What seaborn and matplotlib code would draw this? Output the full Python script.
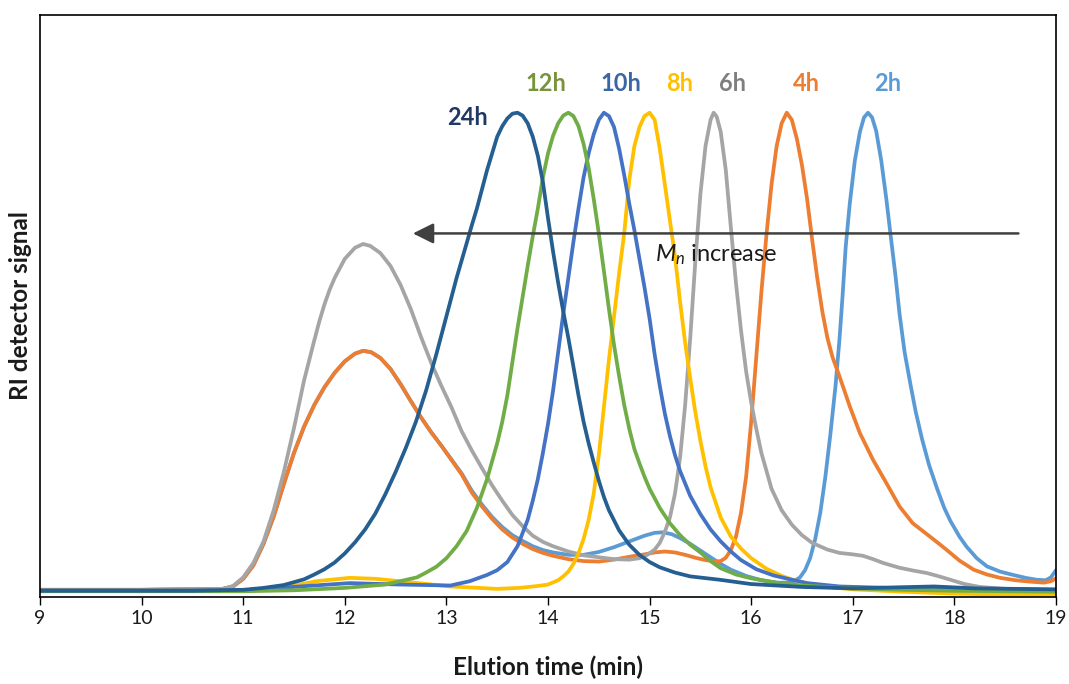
import numpy as np
import pandas as pd
import matplotlib
matplotlib.use("Agg")
import matplotlib.pyplot as plt
import seaborn as sns

# ---------------- data ----------------
series_names = ["2h", "4h", "6h", "8h", "10h", "12h", "24h"]

t_2h = [9.0, 10.0, 10.8, 10.9, 11.0, 11.1, 11.2, 11.3, 11.4, 11.5, 11.6, 11.7, 11.8, 11.9, 12.0, 12.1, 12.18,
        12.26, 12.35, 12.45, 12.55, 12.65, 12.75, 12.85, 12.95, 13.05, 13.15, 13.25, 13.35, 13.45, 13.55, 13.65,
        13.75, 13.85, 13.95, 14.05, 14.2, 14.35, 14.5, 14.65, 14.8, 14.95, 15.05, 15.13, 15.22, 15.3, 15.4, 15.5,
        15.6, 15.7, 15.8, 15.95, 16.1, 16.25, 16.35, 16.42, 16.48, 16.53, 16.58, 16.63, 16.68, 16.73, 16.78,
        16.83, 16.87, 16.9, 16.93, 16.97, 17.02, 17.07, 17.11, 17.15, 17.19, 17.23, 17.28, 17.33, 17.37, 17.42,
        17.46, 17.51, 17.57, 17.62, 17.68, 17.75, 17.83, 17.9, 17.96, 18.05, 18.12, 18.22, 18.32, 18.45, 18.58,
        18.7, 18.81, 18.9, 18.95, 19.0]
s_2h = [0.004, 0.004, 0.006, 0.011, 0.027, 0.055, 0.100, 0.157, 0.225, 0.290, 0.345, 0.390, 0.427, 0.457, 0.481,
        0.497, 0.503, 0.500, 0.488, 0.465, 0.433, 0.398, 0.364, 0.333, 0.305, 0.276, 0.247, 0.211, 0.182, 0.156,
        0.135, 0.118, 0.106, 0.095, 0.087, 0.082, 0.077, 0.077, 0.083, 0.093, 0.105, 0.117, 0.123, 0.124, 0.120,
        0.112, 0.100, 0.086, 0.072, 0.058, 0.046, 0.033, 0.024, 0.019, 0.019, 0.022, 0.030, 0.045, 0.070, 0.110,
        0.165, 0.240, 0.330, 0.430, 0.530, 0.620, 0.720, 0.810, 0.900, 0.960, 0.990, 1.000, 0.990, 0.962, 0.900,
        0.820, 0.748, 0.660, 0.580, 0.500, 0.430, 0.375, 0.320, 0.265, 0.215, 0.175, 0.148, 0.115, 0.094, 0.070,
        0.053, 0.042, 0.035, 0.029, 0.025, 0.024, 0.030, 0.045]

t_4h = [9.0, 10.0, 10.8, 10.9, 11.0, 11.1, 11.2, 11.3, 11.4, 11.5, 11.6, 11.7, 11.8, 11.9, 12.0, 12.1, 12.18,
        12.26, 12.35, 12.45, 12.55, 12.65, 12.75, 12.85, 12.95, 13.05, 13.15, 13.25, 13.35, 13.45, 13.55, 13.65,
        13.75, 13.85, 13.95, 14.05, 14.2, 14.35, 14.5, 14.65, 14.8, 14.95, 15.05, 15.15, 15.25, 15.35, 15.45,
        15.55, 15.65, 15.7, 15.75, 15.8, 15.85, 15.9, 15.95, 16.0, 16.05, 16.1, 16.15, 16.2, 16.25, 16.3, 16.35,
        16.4, 16.45, 16.5, 16.55, 16.6, 16.65, 16.7, 16.75, 16.8, 16.87, 16.97, 17.07, 17.2, 17.33, 17.46, 17.59,
        17.73, 17.85, 17.92, 18.05, 18.19, 18.32, 18.45, 18.6, 18.75, 18.88, 18.95, 19.0]
s_4h = [0.004, 0.004, 0.006, 0.011, 0.027, 0.055, 0.100, 0.157, 0.225, 0.290, 0.345, 0.390, 0.427, 0.457, 0.481,
        0.497, 0.503, 0.500, 0.488, 0.465, 0.433, 0.398, 0.364, 0.333, 0.305, 0.275, 0.245, 0.207, 0.178, 0.152,
        0.130, 0.113, 0.100, 0.089, 0.081, 0.075, 0.068, 0.064, 0.063, 0.067, 0.073, 0.078, 0.082, 0.084, 0.082,
        0.077, 0.071, 0.066, 0.063, 0.064, 0.071, 0.087, 0.115, 0.165, 0.240, 0.355, 0.490, 0.625, 0.745, 0.850,
        0.930, 0.978, 1.000, 0.985, 0.945, 0.890, 0.820, 0.735, 0.655, 0.585, 0.530, 0.490, 0.449, 0.387, 0.331,
        0.275, 0.227, 0.178, 0.143, 0.120, 0.100, 0.088, 0.065, 0.046, 0.036, 0.029, 0.024, 0.021, 0.019, 0.022,
        0.028]

t_6h = [9.0, 10.0, 10.8, 10.9, 11.0, 11.1, 11.2, 11.3, 11.4, 11.5, 11.6, 11.7, 11.75, 11.8, 11.85, 11.9, 12.0,
        12.1, 12.18, 12.25, 12.35, 12.45, 12.55, 12.65, 12.75, 12.85, 12.95, 13.05, 13.15, 13.25, 13.35, 13.45,
        13.55, 13.65, 13.75, 13.85, 13.95, 14.05, 14.2, 14.35, 14.5, 14.65, 14.8, 14.9, 14.97, 15.05, 15.1, 15.15,
        15.2, 15.25, 15.3, 15.35, 15.4, 15.45, 15.5, 15.55, 15.6, 15.63, 15.66, 15.7, 15.75, 15.8, 15.85, 15.9,
        15.95, 16.0, 16.05, 16.1, 16.2, 16.3, 16.4, 16.5, 16.6, 16.75, 16.87, 17.0, 17.1, 17.2, 17.3, 17.46, 17.6,
        17.73, 17.85, 17.96, 18.1, 18.25, 18.5, 19.0]
s_6h = [0.004, 0.004, 0.006, 0.012, 0.030, 0.060, 0.105, 0.170, 0.250, 0.342, 0.442, 0.525, 0.565, 0.600, 0.630,
        0.655, 0.695, 0.718, 0.726, 0.722, 0.707, 0.680, 0.640, 0.590, 0.532, 0.478, 0.430, 0.385, 0.335, 0.295,
        0.258, 0.222, 0.190, 0.160, 0.137, 0.117, 0.104, 0.095, 0.084, 0.076, 0.072, 0.068, 0.067, 0.070, 0.076,
        0.088, 0.102, 0.125, 0.155, 0.205, 0.280, 0.390, 0.530, 0.690, 0.830, 0.930, 0.985, 1.000, 0.992, 0.960,
        0.880, 0.760, 0.645, 0.545, 0.460, 0.395, 0.340, 0.290, 0.215, 0.170, 0.140, 0.118, 0.102, 0.088, 0.081,
        0.078, 0.075, 0.068, 0.060, 0.050, 0.044, 0.039, 0.032, 0.025, 0.016, 0.010, 0.006, 0.004]

t_8h = [9.0, 10.0, 11.0, 11.39, 11.72, 12.05, 12.3, 12.54, 13.04, 13.5, 13.72, 13.9, 14.0, 14.1, 14.15, 14.2,
        14.25, 14.3, 14.35, 14.4, 14.45, 14.5, 14.55, 14.6, 14.65, 14.7, 14.75, 14.8, 14.85, 14.9, 14.95, 15.0,
        15.05, 15.1, 15.15, 15.2, 15.25, 15.3, 15.35, 15.4, 15.45, 15.5, 15.55, 15.6, 15.7, 15.8, 15.9, 16.0,
        16.15, 16.3, 16.41, 16.6, 16.8, 17.0, 17.5, 18.0, 18.5, 19.0]
s_8h = [0.003, 0.003, 0.003, 0.008, 0.022, 0.029, 0.027, 0.022, 0.011, 0.006, 0.008, 0.012, 0.015, 0.024, 0.032,
        0.042, 0.058, 0.080, 0.110, 0.150, 0.205, 0.285, 0.385, 0.485, 0.575, 0.665, 0.748, 0.860, 0.930, 0.970,
        0.993, 1.000, 0.985, 0.925, 0.850, 0.775, 0.700, 0.605, 0.520, 0.445, 0.375, 0.315, 0.262, 0.218, 0.155,
        0.115, 0.090, 0.070, 0.048, 0.033, 0.025, 0.015, 0.009, 0.005, 0.000, -0.004, -0.006, -0.006]

t_10h = [9.0, 11.0, 11.56, 12.05, 12.54, 13.04, 13.23, 13.4, 13.5, 13.6, 13.7, 13.8, 13.85, 13.9, 13.95, 14.0,
         14.05, 14.1, 14.15, 14.2, 14.25, 14.3, 14.35, 14.4, 14.45, 14.5, 14.55, 14.6, 14.65, 14.7, 14.75, 14.8,
         14.85, 14.9, 14.95, 15.0, 15.05, 15.1, 15.15, 15.2, 15.25, 15.3, 15.4, 15.5, 15.6, 15.7, 15.8, 15.9,
         16.05, 16.22, 16.4, 16.55, 16.87, 17.5, 18.0, 19.0]
s_10h = [0.003, 0.003, 0.011, 0.018, 0.015, 0.013, 0.022, 0.035, 0.045, 0.062, 0.095, 0.150, 0.190, 0.235, 0.290,
         0.350, 0.420, 0.500, 0.580, 0.655, 0.730, 0.800, 0.865, 0.915, 0.955, 0.985, 1.000, 0.993, 0.970, 0.925,
         0.870, 0.810, 0.755, 0.695, 0.635, 0.570, 0.495, 0.430, 0.372, 0.325, 0.285, 0.252, 0.200, 0.162, 0.130,
         0.105, 0.084, 0.066, 0.047, 0.034, 0.025, 0.018, 0.011, 0.007, 0.005, 0.003]

t_12h = [9.0, 11.0, 11.5, 12.0, 12.4, 12.71, 12.8, 12.9, 13.0, 13.1, 13.2, 13.3, 13.4, 13.5, 13.55, 13.6, 13.65,
         13.7, 13.75, 13.8, 13.85, 13.9, 13.95, 14.0, 14.05, 14.1, 14.15, 14.2, 14.25, 14.3, 14.35, 14.4, 14.45,
         14.5, 14.55, 14.6, 14.65, 14.7, 14.75, 14.8, 14.85, 14.9, 14.95, 15.0, 15.1, 15.2, 15.3, 15.4, 15.5,
         15.6, 15.7, 15.85, 16.0, 16.25, 16.5, 17.0, 17.5, 18.0, 19.0]
s_12h = [0.001, 0.001, 0.003, 0.008, 0.015, 0.030, 0.040, 0.052, 0.070, 0.095, 0.127, 0.175, 0.235, 0.310, 0.355,
         0.410, 0.480, 0.550, 0.615, 0.680, 0.742, 0.800, 0.865, 0.915, 0.952, 0.978, 0.994, 1.000, 0.993, 0.972,
         0.935, 0.885, 0.820, 0.748, 0.670, 0.590, 0.515, 0.450, 0.390, 0.340, 0.298, 0.268, 0.240, 0.215, 0.175,
         0.143, 0.118, 0.098, 0.082, 0.064, 0.049, 0.036, 0.028, 0.019, 0.013, 0.007, 0.004, 0.002, 0.000]

t_24h = [9.0, 10.5, 11.0, 11.2, 11.4, 11.6, 11.7, 11.8, 11.9, 12.0, 12.1, 12.2, 12.3, 12.4, 12.5, 12.6, 12.7,
         12.8, 12.9, 13.0, 13.1, 13.2, 13.25, 13.3, 13.35, 13.4, 13.45, 13.5, 13.55, 13.6, 13.65, 13.7, 13.75,
         13.8, 13.85, 13.9, 13.95, 14.0, 14.05, 14.1, 14.15, 14.2, 14.25, 14.3, 14.35, 14.4, 14.45, 14.5, 14.55,
         14.6, 14.7, 14.8, 14.9, 15.0, 15.1, 15.25, 15.4, 15.69, 16.0, 16.5, 17.0, 17.6, 17.8, 18.2, 19.0]
s_24h = [0.002, 0.002, 0.004, 0.008, 0.014, 0.026, 0.036, 0.047, 0.061, 0.080, 0.103, 0.130, 0.163, 0.204, 0.250,
         0.300, 0.355, 0.420, 0.495, 0.575, 0.655, 0.728, 0.765, 0.800, 0.840, 0.880, 0.915, 0.950, 0.972, 0.988,
         0.998, 1.000, 0.994, 0.978, 0.950, 0.910, 0.855, 0.780, 0.710, 0.645, 0.585, 0.530, 0.470, 0.410, 0.355,
         0.310, 0.270, 0.232, 0.198, 0.170, 0.128, 0.098, 0.077, 0.062, 0.051, 0.040, 0.032, 0.025, 0.016, 0.010,
         0.007, 0.010, 0.011, 0.007, 0.005]

line_colors = ["#5B9BD5", "#ED7D31", "#A5A5A5", "#FFC000", "#4472C4", "#70AD47", "#255E91"]
label_colors = ["#5B9BD5", "#ED7D31", "#7F7F7F", "#FFC000", "#3A66A6", "#77933C", "#1F3864"]
label_x = [17.34, 16.54, 15.82, 15.30, 14.72, 13.98, 13.21]
label_y = [1.061, 1.061, 1.061, 1.061, 1.061, 1.061, 0.990]

x_ticks = [9, 10, 11, 12, 13, 14, 15, 16, 17, 18, 19]
arrow_from = 18.63
arrow_to = 12.67
arrow_level = 0.748

# ---------------- build frame ----------------
times = [t_2h, t_4h, t_6h, t_8h, t_10h, t_12h, t_24h]
sigs = [s_2h, s_4h, s_6h, s_8h, s_10h, s_12h, s_24h]
frames = []
for name, t, s in zip(series_names, times, sigs):
    frames.append(pd.DataFrame({"time": t, "signal": s, "series": name}))
df = pd.concat(frames, ignore_index=True)

# ---------------- plot ----------------
sns.set_theme(style="white")
plt.rcParams["font.family"] = ["Lato", "DejaVu Sans"]
plt.rcParams["mathtext.fontset"] = "custom"
plt.rcParams["mathtext.it"] = "Lato:italic"
plt.rcParams["mathtext.rm"] = "Lato"

fig = plt.figure(figsize=(10.69, 6.84), dpi=100)
ax = fig.add_axes([40 / 1069, 1 - 597 / 684, (1056 - 40) / 1069, (597 - 15) / 684])

sns.lineplot(data=df, x="time", y="signal", hue="series", hue_order=series_names,
             palette=dict(zip(series_names, line_colors)), estimator=None, sort=False,
             units="series", linewidth=2.7, legend=False, ax=ax)
for ln in ax.lines:
    ln.set_solid_joinstyle("round")
    ln.set_solid_capstyle("round")

ax.set_xlim(9, 19)
ax.set_ylim(-0.011, 1.204)
ax.set_xticks(x_ticks)
ax.set_xticklabels([str(v) for v in x_ticks], fontsize=14, color="#1a1a1a")
ax.set_yticks([])
ax.tick_params(axis="x", direction="out", length=6, width=1, color="#000000", bottom=True, pad=3)
for sp in ax.spines.values():
    sp.set_color("#000000")
    sp.set_linewidth(1.2)

ax.set_xlabel("Elution time (min)", fontsize=17.5, fontweight="bold", color="#1a1a1a", labelpad=21)
ax.set_ylabel("RI detector signal", fontsize=17.5, fontweight="bold", color="#1a1a1a", labelpad=6)

for name, lx, ly, c in zip(series_names, label_x, label_y, label_colors):
    ax.text(lx, ly, name, color=c, fontsize=17, fontweight="bold", ha="center", va="center")

ax.annotate("", xy=(arrow_to, arrow_level), xytext=(arrow_from, arrow_level),
            arrowprops=dict(arrowstyle="-|>,head_length=1.25,head_width=0.62", color="#404040",
                            lw=1.8, shrinkA=0, shrinkB=0, mutation_scale=10), zorder=10)
ax.text(15.05, 0.703, r"$M_n$ increase", fontsize=17, color="#1a1a1a", ha="left", va="center", zorder=11)

fig.savefig("out.png", dpi=100, facecolor="white")
